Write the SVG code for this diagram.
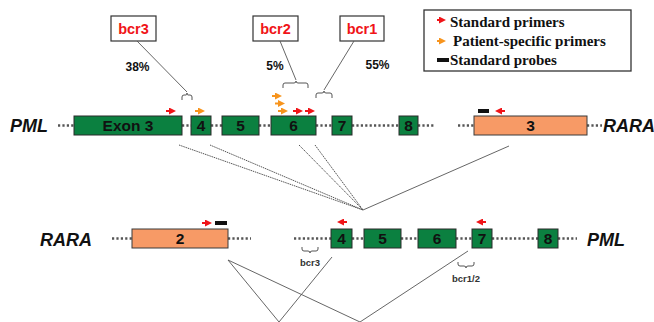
<svg xmlns="http://www.w3.org/2000/svg" width="654" height="322" viewBox="0 0 654 322">
<defs>
<style>
.bg{fill:#fff}
.gene{fill:#0b8040;stroke:#2a2a2a;stroke-width:1}
.rara{fill:#f79a66;stroke:#3a3a3a;stroke-width:1}
.dots{stroke:#555;stroke-width:2.5;stroke-dasharray:2.2,2.2;fill:none}
.lbl{font-family:"Liberation Sans",Arial,sans-serif;font-weight:bold;font-size:15.5px;fill:#111;text-anchor:middle}
.gname{font-family:"Liberation Sans",Arial,sans-serif;font-weight:bold;font-style:italic;font-size:18px;fill:#111}
.bcr{font-family:"Liberation Sans",Arial,sans-serif;font-weight:bold;font-size:14.5px;fill:#f01418;text-anchor:middle}
.bbox{fill:#fff;stroke:#333;stroke-width:1.2}
.pct{font-family:"Liberation Sans",Arial,sans-serif;font-weight:bold;font-size:12px;fill:#111;text-anchor:middle}
.small{font-family:"Liberation Sans",Arial,sans-serif;font-weight:bold;font-size:9.5px;fill:#333;text-anchor:middle}
.leg{font-family:"Liberation Serif","Times New Roman",serif;font-weight:bold;font-size:15px;fill:#111}
.brace{fill:none;stroke:#555;stroke-width:1}
.conn{fill:none;stroke:#555;stroke-width:0.9}
.connd{fill:none;stroke:#555;stroke-width:1;stroke-dasharray:1.5,0.8}
.red{stroke:#f01418;stroke-width:2;fill:none}
.org{stroke:#f7941d;stroke-width:2;fill:none}
.probe{fill:#111}
</style>
<marker id="hr" markerWidth="7" markerHeight="7" refX="4" refY="3.5" orient="auto" markerUnits="userSpaceOnUse"><path d="M0,0 L7,3.5 L0,7 Z" fill="#f01418"/></marker>
<marker id="ho" markerWidth="7" markerHeight="7" refX="4" refY="3.5" orient="auto" markerUnits="userSpaceOnUse"><path d="M0,0 L7,3.5 L0,7 Z" fill="#f7941d"/></marker>
</defs>
<rect class="bg" x="0" y="0" width="654" height="322"/>

<!-- legend -->
<g id="legend">
<rect x="424" y="10" width="207" height="61" fill="#fff" stroke="#333" stroke-width="1.3"/>
<line class="red" x1="437" y1="20" x2="443" y2="20" marker-end="url(#hr)"/>
<text class="leg" x="450" y="27">Standard primers</text>
<line class="org" x1="437" y1="41" x2="443" y2="41" marker-end="url(#ho)"/>
<text class="leg" x="453" y="46">Patient-specific primers</text>
<rect class="probe" x="437" y="58" width="12" height="4"/>
<text class="leg" x="450" y="65">Standard probes</text>
</g>

<!-- bcr labels -->
<g id="bcr3">
<rect class="bbox" x="111" y="16" width="45" height="25"/>
<text class="bcr" x="133.5" y="34">bcr3</text>
<text class="pct" x="137.5" y="71">38%</text>
</g>
<g id="bcr2">
<rect class="bbox" x="253" y="16" width="45" height="25"/>
<text class="bcr" x="275.5" y="34">bcr2</text>
<text class="pct" x="275" y="70">5%</text>
</g>
<g id="bcr1">
<rect class="bbox" x="340" y="16" width="44" height="25"/>
<text class="bcr" x="362" y="34">bcr1</text>
<text class="pct" x="377.5" y="69">55%</text>
</g>

<!-- top row: PML-RARA genomic -->
<g id="top-row">
<text class="gname" x="10" y="132">PML</text>
<line class="dots" x1="58" y1="125.5" x2="74" y2="125.5"/>
<line class="dots" x1="182" y1="125.5" x2="191" y2="125.5"/>
<line class="dots" x1="211" y1="125.5" x2="222" y2="125.5"/>
<line class="dots" x1="259" y1="125.5" x2="271" y2="125.5"/>
<line class="dots" x1="316" y1="125.5" x2="332" y2="125.5"/>
<line class="dots" x1="352" y1="125.5" x2="399" y2="125.5"/>
<line class="dots" x1="418" y1="125.5" x2="434" y2="125.5"/>
<line class="dots" x1="458" y1="125.5" x2="474" y2="125.5"/>
<line class="dots" x1="587" y1="125.5" x2="602" y2="125.5"/>
<g id="pml-e3"><rect class="gene" x="74" y="116" width="108" height="19"/><text class="lbl" x="128" y="131">Exon 3</text></g>
<g id="pml-e4"><rect class="gene" x="191" y="116" width="20" height="19"/><text class="lbl" x="201" y="131">4</text></g>
<g id="pml-e5"><rect class="gene" x="222" y="116" width="37" height="19"/><text class="lbl" x="240.5" y="131">5</text></g>
<g id="pml-e6"><rect class="gene" x="271" y="116" width="45" height="19"/><text class="lbl" x="293.5" y="131">6</text></g>
<g id="pml-e7"><rect class="gene" x="332" y="116" width="20" height="19"/><text class="lbl" x="342" y="131">7</text></g>
<g id="pml-e8"><rect class="gene" x="399" y="116" width="19" height="19"/><text class="lbl" x="408.5" y="131">8</text></g>
<g id="rara-e3"><rect class="rara" x="474" y="116" width="113" height="19"/><text class="lbl" x="530.5" y="131">3</text></g>
<text class="gname" x="603" y="132">RARA</text>
<!-- primers -->
<line class="red" x1="166" y1="111" x2="173" y2="111" marker-end="url(#hr)"/>
<line class="org" x1="195" y1="111" x2="202" y2="111" marker-end="url(#ho)"/>
<line class="org" x1="272" y1="96" x2="279" y2="96" marker-end="url(#ho)"/>
<line class="org" x1="275" y1="103.5" x2="282" y2="103.5" marker-end="url(#ho)"/>
<line class="org" x1="278" y1="111" x2="285" y2="111" marker-end="url(#ho)"/>
<line class="red" x1="293" y1="111" x2="300" y2="111" marker-end="url(#hr)"/>
<line class="red" x1="305" y1="111" x2="312" y2="111" marker-end="url(#hr)"/>
<rect class="probe" x="478" y="109" width="11" height="4"/>
<line class="red" x1="505" y1="111" x2="498" y2="111" marker-end="url(#hr)"/>
<!-- braces -->
<path class="brace" d="M182,100 L182,97 Q182,95 184,95 L186,95 Q187,95 187,93 Q187,95 188,95 L190,95 Q192,95 192,97 L192,100"/>
<path class="brace" d="M283,88 L283,85 Q283,83 285,83 L294,83 Q296,83 296,81 Q296,83 298,83 L306,83 Q308,83 308,85 L308,88"/>
<path class="brace" d="M316,98 L316,95 Q316,93 318,93 L322,93 Q324,93 324,91 Q324,93 326,93 L330,93 Q332,93 332,95 L332,98"/>
</g>

<!-- bottom row: RARA-PML -->
<g id="bottom-row">
<text class="gname" x="40" y="246">RARA</text>
<line class="dots" x1="112" y1="238.5" x2="132" y2="238.5"/>
<line class="dots" x1="228" y1="238.5" x2="251" y2="238.5"/>
<line class="dots" x1="294" y1="238.5" x2="331" y2="238.5"/>
<line class="dots" x1="352" y1="238.5" x2="364" y2="238.5"/>
<line class="dots" x1="401" y1="238.5" x2="418" y2="238.5"/>
<line class="dots" x1="456" y1="238.5" x2="472" y2="238.5"/>
<line class="dots" x1="492" y1="238.5" x2="538" y2="238.5"/>
<line class="dots" x1="558" y1="238.5" x2="577" y2="238.5"/>
<g id="rara-e2"><rect class="rara" x="132" y="229" width="96" height="19"/><text class="lbl" x="180" y="244">2</text></g>
<g id="b-pml-e4"><rect class="gene" x="331" y="229" width="21" height="19"/><text class="lbl" x="341.5" y="244">4</text></g>
<g id="b-pml-e5"><rect class="gene" x="364" y="229" width="37" height="19"/><text class="lbl" x="382.5" y="244">5</text></g>
<g id="b-pml-e6"><rect class="gene" x="418" y="229" width="38" height="19"/><text class="lbl" x="437" y="244">6</text></g>
<g id="b-pml-e7"><rect class="gene" x="472" y="229" width="20" height="19"/><text class="lbl" x="482" y="244">7</text></g>
<g id="b-pml-e8"><rect class="gene" x="538" y="229" width="20" height="19"/><text class="lbl" x="548" y="244">8</text></g>
<text class="gname" x="587" y="246">PML</text>
<line class="red" x1="202" y1="223" x2="209" y2="223" marker-end="url(#hr)"/>
<rect class="probe" x="215" y="221" width="12" height="4"/>
<line class="red" x1="347" y1="222" x2="340" y2="222" marker-end="url(#hr)"/>
<line class="red" x1="486" y1="222" x2="479" y2="222" marker-end="url(#hr)"/>
<path class="brace" d="M302,247 L302,249 Q302,251 304,251 L308,251 Q310,251 310,253 Q310,251 312,251 L316,251 Q318,251 318,249 L318,247"/>
<text class="small" x="310" y="266">bcr3</text>
<path class="brace" d="M458,262 L458,264 Q458,266 460,266 L464,266 Q466,266 466,268 Q466,266 468,266 L472,266 Q474,266 474,264 L474,262"/>
<text class="small" x="466" y="282">bcr1/2</text>
</g>

<!-- connectors -->
<g id="connectors">
<line class="conn" x1="137" y1="41" x2="187" y2="92"/>
<line class="conn" x1="280" y1="41" x2="296" y2="80"/>
<line class="conn" x1="354" y1="41" x2="324" y2="90"/>
<line class="connd" x1="179" y1="145" x2="363" y2="210"/>
<line class="connd" x1="210" y1="145" x2="363" y2="210"/>
<line class="connd" x1="299" y1="145" x2="363" y2="210"/>
<line class="connd" x1="315" y1="145" x2="363" y2="210"/>
<line class="conn" x1="363" y1="210" x2="509" y2="146"/>
<line class="conn" x1="228" y1="260" x2="279" y2="322"/>
<line class="conn" x1="228" y1="260" x2="360" y2="322"/>
<line class="conn" x1="332" y1="257" x2="279" y2="322"/>
<line class="conn" x1="468" y1="251" x2="360" y2="322"/>
</g>
</svg>
